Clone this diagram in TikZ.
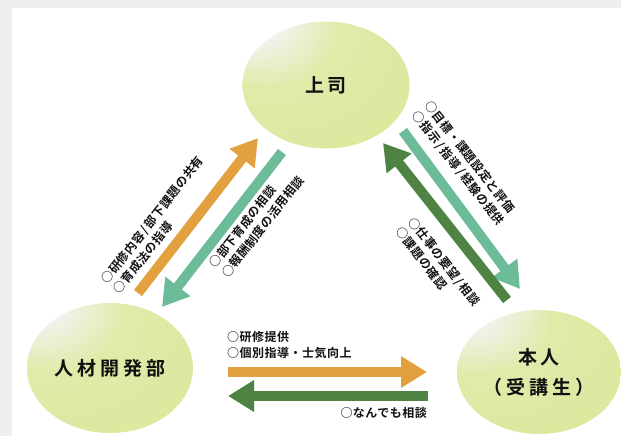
\documentclass[tikz,border=0pt]{standalone}
\usepackage{fontspec}
\setmainfont{Noto Sans CJK JP}
\newfontfamily\jpb[LetterSpace=20]{Noto Sans CJK JP Bold}
\newfontfamily\jps[LetterSpace=4]{Noto Sans CJK JP Bold}
\usetikzlibrary{arrows.meta,shapes.geometric}
\definecolor{bggray}{HTML}{EFEFEF}
\definecolor{hl}{HTML}{F4F4F8}
\definecolor{midg}{HTML}{E0EBAA}
\definecolor{edgeg}{HTML}{CDE077}
\definecolor{arrOr}{HTML}{E3A03F}
\definecolor{arrTe}{HTML}{6CBB99}
\definecolor{arrGr}{HTML}{4F8343}
\definecolor{txt}{HTML}{111111}
\pgfdeclareradialshading{ballshade}{\pgfpoint{-24bp}{28bp}}{color(0bp)=(hl); color(6bp)=(hl); color(22bp)=(midg); color(50bp)=(midg!70!edgeg); color(75bp)=(edgeg); color(90bp)=(edgeg)}
\tikzset{
  ball/.style={ellipse, shade, shading=ballshade, inner sep=0pt, text=txt, font=\jpb\fontsize{19}{30}\selectfont, align=center},
  fat/.style={line width=10pt, -{Triangle[width=30pt,length=26pt]}},
  lbl/.style={inner sep=0pt, text=txt, font=\jps\fontsize{12}{16}\selectfont, align=left}
}
\begin{document}
\begin{tikzpicture}[x=1pt,y=-1pt]
\useasboundingbox (0,0) rectangle (621,436);
\fill[bggray] (0,0) rectangle (621,436);
\fill[white] (12,8) rectangle (621,436);
\begin{scope}
\clip (12,8) rectangle (621,436);
\node[ball, minimum width=167pt, minimum height=127pt] (boss) at (326,85) {上司};
\node[ball, minimum width=166pt, minimum height=130pt] (hr) at (110,368) {人材開発部};
\node[ball, minimum width=164pt, minimum height=124pt] (me) at (539,372) {本人\\（受講生）};
\end{scope}
% arrow endpoints
\coordinate (a1s) at (138,293); \coordinate (a1e) at (258,138);
\coordinate (a2s) at (282,152); \coordinate (a2e) at (162,307);
\coordinate (a3s) at (403,131); \coordinate (a3e) at (520,289);
\coordinate (a4s) at (507,300); \coordinate (a4e) at (383,143);
\coordinate (a5s) at (228,372); \coordinate (a5e) at (427,372);
\coordinate (a6s) at (428,396); \coordinate (a6e) at (228,396);
\draw[fat, arrOr] (a1s) -- (a1e);
\draw[fat, arrTe] (a2s) -- (a2e);
\draw[fat, arrTe] (a3s) -- (a3e);
\draw[fat, arrGr] (a4s) -- (a4e);
\draw[fat, arrOr] (a5s) -- (a5e);
\draw[fat, arrGr] (a6s) -- (a6e);
% labels
\node[lbl, anchor=west, rotate=52] (l1) at (110,287) {○研修内容\,/\,部下課題の共有\\○育成法の指導};
\node[lbl, anchor=west, rotate=52] (l2) at (218,271) {○部下育成の相談\\○報酬制度の活用相談};
\node[lbl, anchor=west, rotate=-52] (l3) at (421,108) {○目標・課題設定と評価\\○指示\,/\,指導\,/\,経験の提供};
\node[lbl, anchor=west, rotate=-52] (l4) at (405,224) {○仕事の要望\,/\,相談\\○課題の確認};
\node[lbl, anchor=north west] (l5) at (227,331) {○研修提供\\○個別指導・士気向上};
\node[lbl, anchor=east] (l6) at (427,413) {○なんでも相談};
\end{tikzpicture}
\end{document}
